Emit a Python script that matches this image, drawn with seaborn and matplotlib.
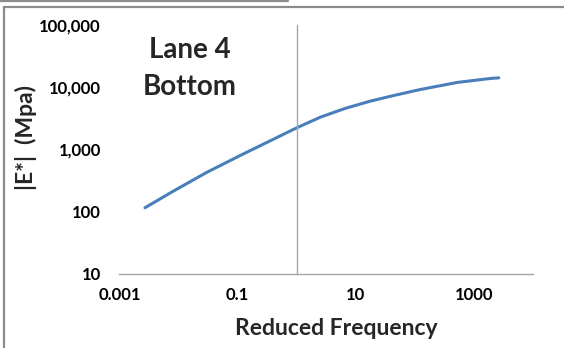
import matplotlib
matplotlib.use("Agg")
import matplotlib.pyplot as plt
import seaborn as sns
import pandas as pd
from matplotlib.patches import Rectangle
from matplotlib.lines import Line2D
from matplotlib.ticker import NullLocator

# ---- data ----
freq = [0.0027, 0.0082, 0.030, 0.110, 0.356, 1.0, 2.5, 6.6, 17.6, 46.7, 124, 520, 1900, 2630]
modulus = [116, 215, 429, 800, 1380, 2230, 3300, 4570, 5985, 7470, 9200, 11940, 13840, 14160]
x_ticks = [0.001, 0.1, 10, 1000]
x_tick_labels = ["0.001", "0.1", "10", "1000"]
y_ticks = [10, 100, 1000, 10000, 100000]
y_tick_labels = ["10", "100", "1,000", "10,000", "100,000"]
title_lines = ["Lane 4", "Bottom"]
x_label = "Reduced Frequency"
y_label = "|E*|  (Mpa)"

sns.set_style("white")
plt.rcParams["font.family"] = ["Lato", "DejaVu Sans"]
plt.rcParams["font.weight"] = "bold"

W, H = 564, 348
fig = plt.figure(figsize=(W / 100, H / 100), dpi=100)
fig.patch.set_facecolor("white")
L, R, T, B = 119.5, 533, 25, 274
ax = fig.add_axes([L / W, 1 - B / H, (R - L) / W, (B - T) / H])

df = pd.DataFrame({"freq": freq, "E": modulus})
sns.lineplot(data=df, x="freq", y="E", ax=ax, color="#4A7EBB", linewidth=2.2)

ax.set_xscale("log")
ax.set_yscale("log")
ax.set_xlim(0.001, 10000)
ax.set_ylim(10, 100000)

gray = "#a6a6a6"
for s in ["top", "right"]:
    ax.spines[s].set_visible(False)
ax.spines["left"].set_position(("data", 1))
ax.spines["left"].set_color(gray)
ax.spines["bottom"].set_color(gray)
ax.spines["left"].set_linewidth(1.0)
ax.spines["bottom"].set_linewidth(1.0)

ax.set_xticks(x_ticks, labels=x_tick_labels)
ax.xaxis.set_minor_locator(NullLocator())
ax.set_yticks(y_ticks)
ax.yaxis.set_minor_locator(NullLocator())
ax.tick_params(axis="x", direction="out", length=4, width=1, color=gray,
               labelsize=12, pad=5, labelcolor="black")
ax.tick_params(axis="y", direction="out", length=4, width=1, color=gray,
               labelleft=False)
for lab in ax.get_xticklabels():
    lab.set_fontweight("bold")

sec = ax.secondary_yaxis(0)
sec.set_yticks(y_ticks, labels=y_tick_labels)
sec.yaxis.set_minor_locator(NullLocator())
sec.spines["left"].set_visible(False)
sec.tick_params(axis="y", length=0, pad=13.5, labelsize=12, labelcolor="black")
for lab in sec.get_yticklabels():
    lab.set_fontweight("bold")

ax.set_xlabel(x_label, fontsize=16.5, fontweight="bold")
ax.set_ylabel("")
ax.xaxis.set_label_coords((336 - L) / (R - L), (B - 318) / (B - T))
ax.xaxis.label.set_va("top")

fig.text(26 / W, 1 - 138 / H, y_label, rotation=90, ha="center", va="center",
         fontsize=16.5, fontweight="bold")

fig.text(190 / W, 1 - 50 / H, title_lines[0], ha="center", va="center",
         fontsize=20, fontweight="bold")
fig.text(190 / W, 1 - 87 / H, title_lines[1], ha="center", va="center",
         fontsize=20, fontweight="bold")

# chart-area frame like the Excel screenshot
fig.add_artist(Rectangle((4 / W, -0.2), 1.2, 1.2 - 7 / H, transform=fig.transFigure,
                         fill=False, edgecolor="#8c8c8c", linewidth=1.6))
fig.add_artist(Line2D([0, 288 / W], [1 - 0.8 / H, 1 - 0.8 / H], transform=fig.transFigure,
                      color="#8c8c8c", linewidth=1.6))

fig.savefig("out.png", dpi=100, facecolor="white")
